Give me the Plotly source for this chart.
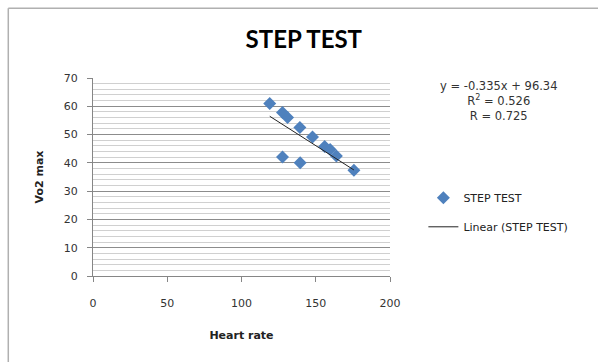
import plotly.graph_objects as go

# Data
heart_rate = [119, 127.6, 131, 139.3, 147.8, 156, 159.7, 163.9, 175.7, 127.6, 139.5]
vo2_max = [61, 57.8, 56, 52.5, 49.1, 45.8, 44.7, 42.4, 37.4, 42.1, 40]
slope = -0.335
intercept = 96.34
r_squared = 0.526
r_value = 0.725
x_ticks = [0, 50, 100, 150, 200]
y_ticks = [0, 10, 20, 30, 40, 50, 60, 70]

FONT = "'DejaVu Sans', sans-serif"
TITLE_FONT = "Lato, 'Open Sans', sans-serif"
BLUE = "#4F81BD"

x_line = [min(heart_rate), max(heart_rate)]
y_line = [slope * v + intercept for v in x_line]

fig = go.Figure()
fig.add_trace(go.Scatter(
    x=heart_rate, y=vo2_max, mode="markers", name="STEP TEST",
    marker=dict(symbol="diamond", size=10, color=BLUE),
    legendgroup="a",
))
fig.add_trace(go.Scatter(
    x=x_line, y=y_line, mode="lines", name="Linear (STEP TEST)",
    line=dict(color="#222222", width=1),
    legendgroup="b",
))

W, H = 598, 362
L, R, T, B = 92.5, 390.5, 77.7, 275.7

def px_to_paper_x(px):
    return (px - L) / (R - L)

def px_to_paper_y(py):
    return (B - py) / (B - T)

fig.update_layout(
    width=W, height=H,
    margin=dict(l=L, r=W - R, t=T, b=H - B, pad=0),
    paper_bgcolor="white", plot_bgcolor="white",
    font=dict(family=FONT, size=11, color="#333333"),
    title=dict(text="<b>STEP TEST</b>", x=px_to_paper_x(304), xref="paper",
               xanchor="center", y=1 - 40 / H, yanchor="middle",
               font=dict(family=TITLE_FONT, size=24, color="#000000")),
    xaxis=dict(range=[0, 200], tickvals=x_ticks, showgrid=False, zeroline=False,
               showline=True, linecolor="#868686", linewidth=1,
               ticks="outside", ticklen=5, tickcolor="#868686",
               ticklabelstandoff=12,
               tickfont=dict(family=FONT, size=11, color="#333333"),
               title=dict(text="<b>Heart rate</b>", standoff=22,
                          font=dict(family=FONT, size=11, color="#222222"))),
    yaxis=dict(range=[0, 70], tickvals=y_ticks, showgrid=True,
               gridcolor="#8c8c8c", gridwidth=1, zeroline=False,
               showline=True, linecolor="#868686", linewidth=1,
               ticks="outside", ticklen=5, tickcolor="#868686",
               ticklabelstandoff=7,
               minor=dict(dtick=2, showgrid=True, gridcolor="#d0d0d0", gridwidth=1),
               tickfont=dict(family=FONT, size=11, color="#333333"),
               title=dict(text="<b>Vo2 max</b>", standoff=17,
                          font=dict(family=FONT, size=11, color="#222222"))),
    legend=dict(x=px_to_paper_x(424), y=px_to_paper_y(183), xanchor="left", yanchor="top",
                bgcolor="rgba(0,0,0,0)", borderwidth=0, tracegroupgap=10,
                traceorder="grouped",
                font=dict(family=FONT, size=11, color="#222222")),
    showlegend=True,
)

fig.add_annotation(
    x=px_to_paper_x(500), y=px_to_paper_y(100.5), xref="paper", yref="paper",
    text=f"y = {slope}x + {intercept}<br>R<sup>2</sup> = {r_squared}<br>R = {r_value}",
    showarrow=False, align="center", xanchor="center", yanchor="middle",
    font=dict(family=FONT, size=11.5, color="#333333"),
)

# outer chart frame (left and top edges visible)
fig.add_shape(type="line", xref="paper", yref="paper",
              x0=px_to_paper_x(7.5), x1=px_to_paper_x(7.5),
              y0=px_to_paper_y(8), y1=px_to_paper_y(370),
              line=dict(color="#b0b0b0", width=1.5))
fig.add_shape(type="line", xref="paper", yref="paper",
              x0=px_to_paper_x(7.5), x1=px_to_paper_x(610),
              y0=px_to_paper_y(8), y1=px_to_paper_y(8),
              line=dict(color="#b0b0b0", width=1.5))

fig.write_html("out.html")
